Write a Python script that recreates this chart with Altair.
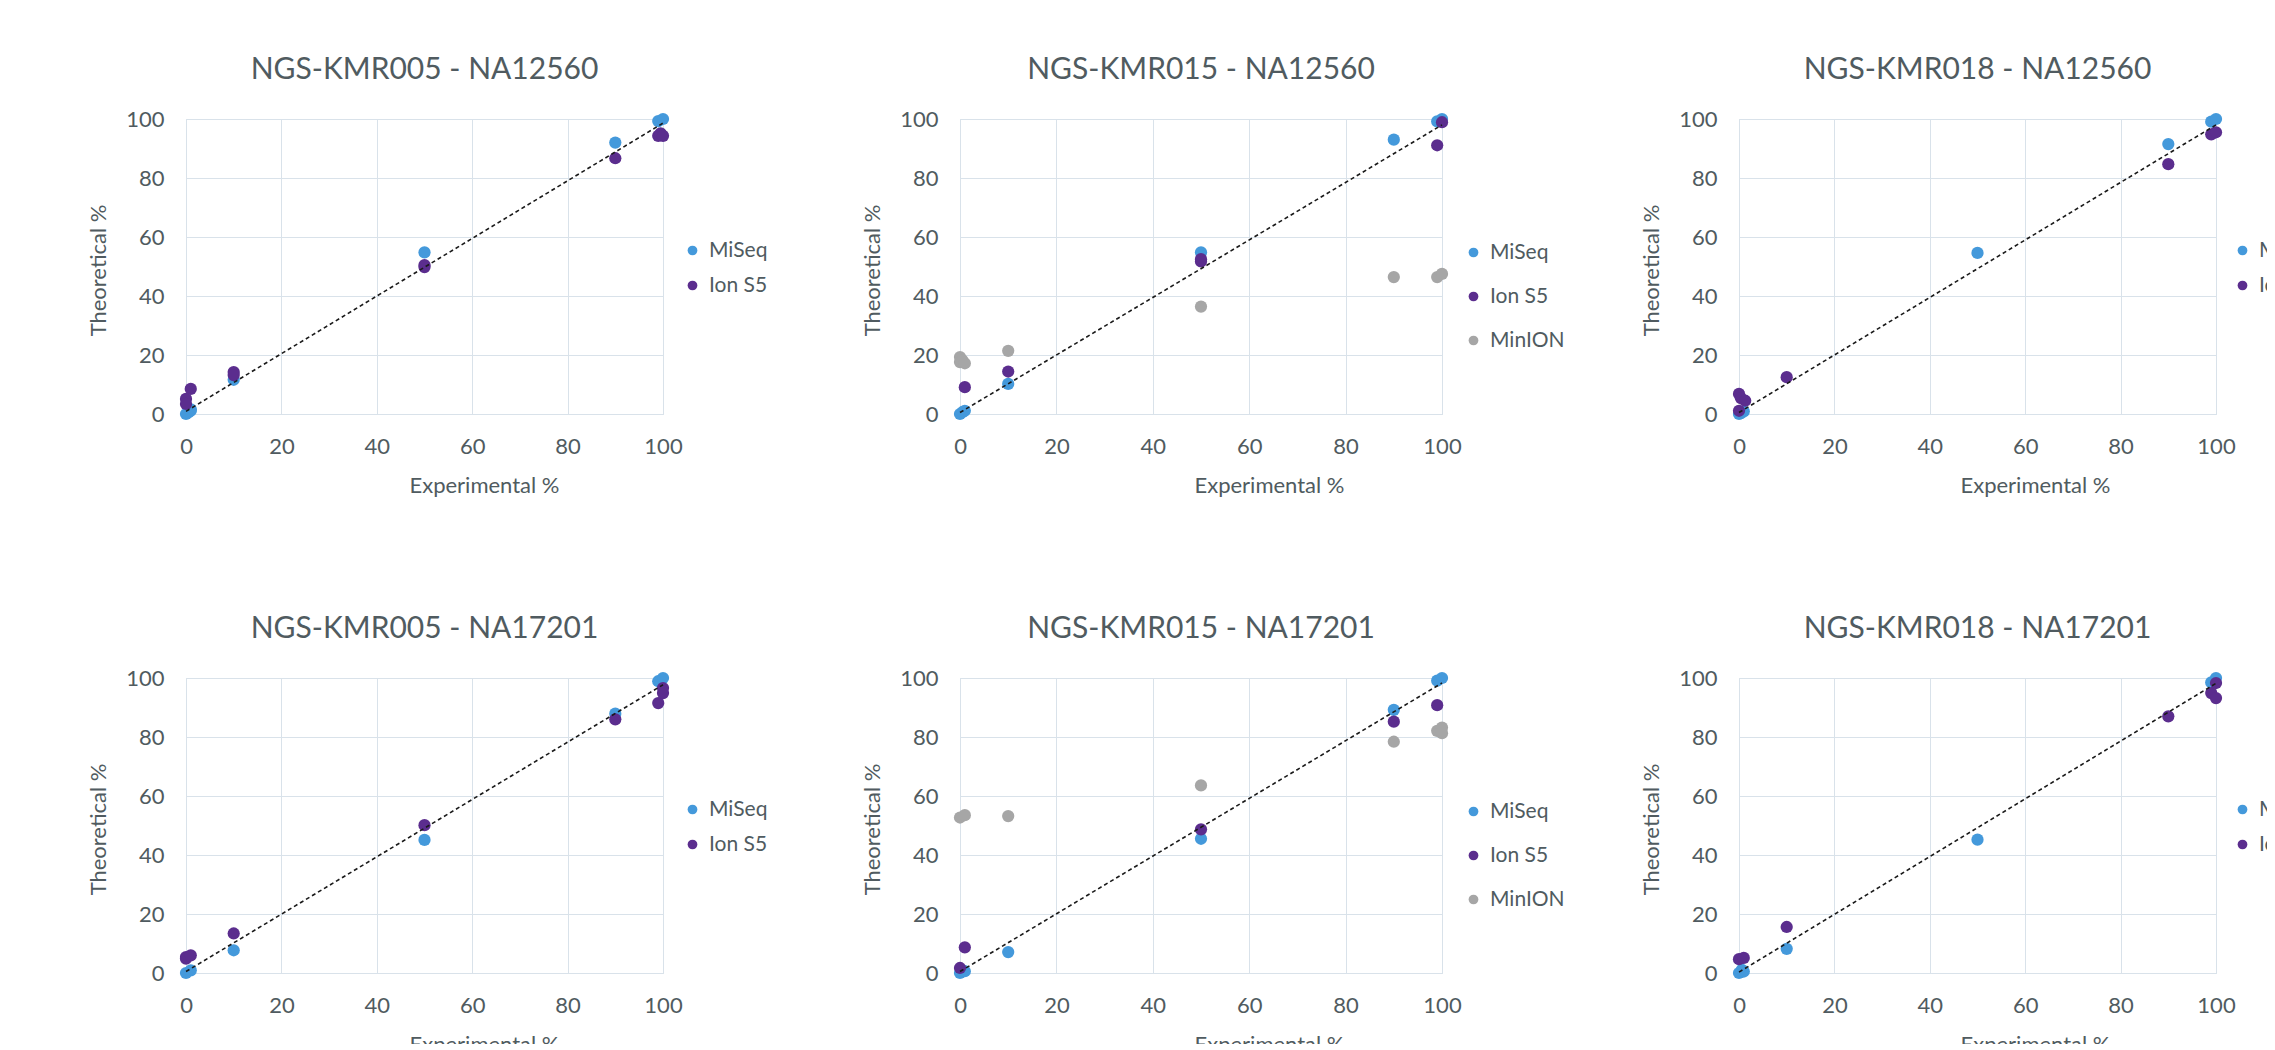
import altair as alt
import pandas as pd

FONT = "Lato"
TXT = "#505b60"
GRID = "#d9e2ea"

series_names = ["MiSeq", "Ion S5", "MinION"]
series_colors = ["#4499db", "#5b2d8e", "#a6a6a6"]

titles = ["NGS-KMR005 - NA12560", "NGS-KMR015 - NA12560", "NGS-KMR018 - NA12560",
          "NGS-KMR005 - NA17201", "NGS-KMR015 - NA17201", "NGS-KMR018 - NA17201"]

x_ticks = [0, 20, 40, 60, 80, 100]
y_ticks = [0, 20, 40, 60, 80, 100]

# Panel 1: NGS-KMR005 - NA12560
p1_miseq_x = [0, 0.5, 1, 1, 10, 50, 90, 99, 100]
p1_miseq_y = [0, 0.5, 1.1, 1.6, 11.6, 54.8, 92, 99.3, 100]
p1_ion_x = [0, 0, 1, 10, 10, 50, 50, 90, 99, 99.5, 100]
p1_ion_y = [5.1, 3.4, 8.5, 14.2, 13.2, 49.8, 50.5, 86.7, 94.3, 95.1, 94.3]

# Panel 2: NGS-KMR015 - NA12560
p2_miseq_x = [0, 0.5, 1, 10, 50, 90, 99, 100]
p2_miseq_y = [0, 0.6, 1.1, 10.2, 54.8, 93, 99.2, 100]
p2_ion_x = [1, 10, 50, 50, 99, 100]
p2_ion_y = [9.1, 14.4, 51.7, 52.5, 91.1, 98.9]
p2_min_x = [0, 0, 0.5, 1, 10, 50, 90, 99, 100]
p2_min_y = [19.3, 17.6, 18.2, 17.2, 21.4, 36.4, 46.4, 46.4, 47.5]

# Panel 3: NGS-KMR018 - NA12560
p3_miseq_x = [0, 0.4, 1, 50, 90, 99, 100]
p3_miseq_y = [0, 0.3, 0.9, 54.6, 91.5, 99.1, 100]
p3_ion_x = [0, 0, 0.4, 1.3, 10, 90, 99, 100]
p3_ion_y = [6.8, 1.1, 5.4, 4.5, 12.5, 84.7, 94.8, 95.5]

# Panel 4: NGS-KMR005 - NA17201
p4_miseq_x = [0, 1, 10, 50, 90, 99, 100]
p4_miseq_y = [0, 0.9, 7.7, 45.1, 87.9, 98.9, 100]
p4_ion_x = [0, 0, 1, 10, 50, 90, 99, 100, 100]
p4_ion_y = [5.4, 4.9, 6.0, 13.4, 50.1, 86.0, 91.5, 94.9, 96.6]

# Panel 5: NGS-KMR015 - NA17201
p5_miseq_x = [0, 1, 10, 50, 90, 99, 100]
p5_miseq_y = [0, 0.6, 7.1, 45.5, 89.2, 99.1, 100]
p5_ion_x = [0, 1, 50, 90, 99]
p5_ion_y = [1.7, 8.7, 48.7, 85.2, 90.8]
p5_min_x = [0, 1, 10, 50, 90, 99, 100, 100]
p5_min_y = [52.7, 53.5, 53.2, 63.6, 78.4, 82.1, 83.2, 81.3]

# Panel 6: NGS-KMR018 - NA17201
p6_miseq_x = [0, 0.6, 1, 10, 50, 99, 100]
p6_miseq_y = [0, 1.1, 0.5, 8.2, 45.2, 98.5, 100]
p6_ion_x = [0, 1, 10, 90, 99, 100, 100]
p6_ion_y = [4.7, 5.1, 15.6, 87, 94.9, 98.3, 93.2]

# dotted trend lines (start, end) per panel
trend_x = [0, 100]
trend_y = [[0.9, 98.6], [0.5, 98.0], [0.5, 98.0], [0.5, 97.7], [0.5, 98.3], [0.3, 98.2]]

panel_series = [
    [(p1_miseq_x, p1_miseq_y), (p1_ion_x, p1_ion_y)],
    [(p2_miseq_x, p2_miseq_y), (p2_ion_x, p2_ion_y), (p2_min_x, p2_min_y)],
    [(p3_miseq_x, p3_miseq_y), (p3_ion_x, p3_ion_y)],
    [(p4_miseq_x, p4_miseq_y), (p4_ion_x, p4_ion_y)],
    [(p5_miseq_x, p5_miseq_y), (p5_ion_x, p5_ion_y), (p5_min_x, p5_min_y)],
    [(p6_miseq_x, p6_miseq_y), (p6_ion_x, p6_ion_y)],
]

widths = [477, 482, 477]
HEIGHT = 295
xtitle_offsets = [298, 309, 296]
legend_dx = [19, 21, 16]


def panel(i):
    col = i % 3
    w = widths[col]
    series = panel_series[i]
    names = series_names[:len(series)]
    rows = []
    for name, (xs, ys) in zip(names, series):
        for x, y in zip(xs, ys):
            rows.append({"Experimental": x, "Theoretical": y, "Platform": name})
    df = pd.DataFrame(rows)
    tdf = pd.DataFrame({"Experimental": trend_x, "Theoretical": trend_y[i]})

    xscale = alt.Scale(domain=[0, 100], nice=False, zero=False)
    yscale = alt.Scale(domain=[0, 100], nice=False, zero=False)
    xaxis = alt.Axis(values=x_ticks, title="Experimental %", grid=True, ticks=False, tickSize=0,
                     domainColor=GRID, gridColor=GRID, labelFont=FONT, labelFontSize=22,
                     labelColor=TXT, labelPadding=32, labelBaseline="middle", labelFlush=False,
                     titleFont=FONT, titleFontSize=22, titleFontWeight="normal", titleColor=TXT,
                     titleX=xtitle_offsets[col], titleY=71, titleAlign="center",
                     titleBaseline="middle", titleAnchor="start")
    yaxis = alt.Axis(values=y_ticks, title="Theoretical %", grid=True, ticks=False, tickSize=0,
                     domainColor=GRID, gridColor=GRID, labelFont=FONT, labelFontSize=22,
                     labelColor=TXT, labelPadding=22, labelBaseline="middle", labelFlush=False,
                     titleFont=FONT, titleFontSize=22, titleFontWeight="normal", titleColor=TXT,
                     titleX=-88, titleY=151, titleAngle=270, titleAlign="center",
                     titleBaseline="middle", titleAnchor="start")
    nser = len(names)
    legend = alt.Legend(title=None, orient="none", legendX=w + legend_dx[col],
                        legendY=121 if nser == 2 else 123, labelFont=FONT, labelFontSize=21,
                        labelColor=TXT, symbolType="circle", symbolSize=95, padding=0,
                        labelOffset=6, rowPadding=13 if nser == 2 else 22,
                        symbolStrokeWidth=0, labelLimit=300)
    pts = alt.Chart(df).mark_circle(size=150, opacity=1).encode(
        x=alt.X("Experimental:Q", scale=xscale, axis=xaxis),
        y=alt.Y("Theoretical:Q", scale=yscale, axis=yaxis),
        color=alt.Color("Platform:N", sort=names,
                        scale=alt.Scale(domain=names, range=series_colors[:nser]),
                        legend=legend),
    )
    line = alt.Chart(tdf).mark_line(color="#1a1a1a", strokeDash=[4, 3], strokeWidth=1.6).encode(
        x=alt.X("Experimental:Q", scale=xscale),
        y=alt.Y("Theoretical:Q", scale=yscale),
    )
    return alt.layer(pts, line).properties(
        width=w, height=HEIGHT,
        title=alt.TitleParams(titles[i], font=FONT, fontSize=30, fontWeight="normal",
                              color=TXT, anchor="middle", frame="group", offset=-1,
                              baseline="alphabetic"),
    )


charts = [panel(i) for i in range(6)]
chart = alt.concat(*charts, columns=3, spacing={"row": 264, "column": 297}, bounds="flush").resolve_scale(
    color="independent"
).resolve_legend(color="independent").properties(
    autosize=alt.AutoSizeParams(type="none"),
    padding={"left": 178, "top": 111, "right": 2081, "bottom": 925},
).configure_view(stroke=None).configure(background="white")

chart.save("out.html", embed_options={"renderer": "svg", "actions": False})
